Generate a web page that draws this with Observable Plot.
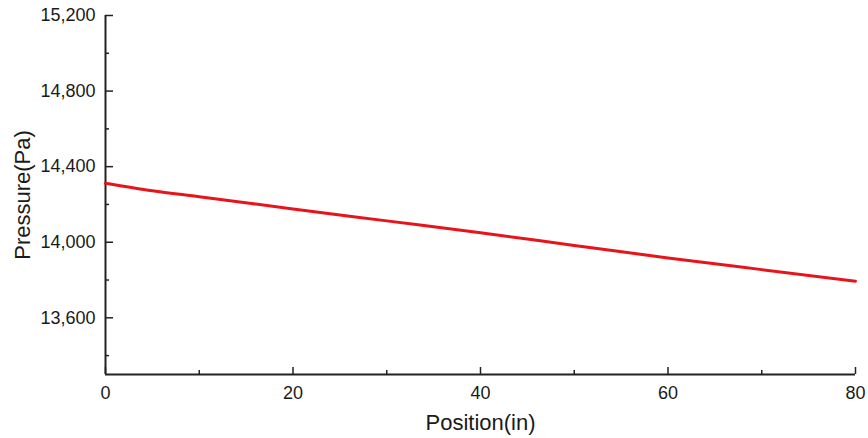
<!DOCTYPE html>
<html>
<head>
<meta charset="utf-8">
<script src="https://cdn.jsdelivr.net/npm/d3@7"></script>
<script src="https://cdn.jsdelivr.net/npm/@observablehq/plot@0.6"></script>
<style>
  html, body { margin: 0; padding: 0; background: #fff; }
  #chart svg { display: block; }
</style>
</head>
<body>
<div id="chart"></div>
<script>
// Data
const positions = [0, 5, 10, 20, 30, 40, 50, 60, 70, 80];
const pressures = [14312, 14272, 14241, 14176, 14113, 14050, 13983, 13917, 13855, 13794];

const xMajorTicks = [0, 20, 40, 60, 80];
const xMinorTicks = [10, 30, 50, 70];
const yMajorTicks = [13600, 14000, 14400, 14800, 15200];
const yMinorTicks = [13400, 13800, 14200, 14600, 15000];
const xDomain = [0, 80];
const yDomain = [13300, 15200];

const data = positions.map((p, i) => ({position: p, pressure: pressures[i]}));

const W = 868, H = 438;
const mL = 105, mR = 13, mT = 15, mB = 64;
const plotW = W - mL - mR, plotH = H - mT - mB;
const axisColor = "#222";

const chart = Plot.plot({
  width: W,
  height: H,
  marginLeft: mL,
  marginRight: mR,
  marginTop: mT,
  marginBottom: mB,
  style: {fontFamily: "'Liberation Sans', Arial, sans-serif", color: "#1a1a1a", background: "#fff"},
  x: {domain: xDomain},
  y: {domain: yDomain},
  marks: [
    Plot.axisX(xMajorTicks, {tickSize: 0, tickPadding: 12, fontSize: 18, tickFormat: d3.format("d"),
      label: "Position(in)", labelAnchor: "center", labelArrow: "none", labelOffset: 55}),
    Plot.axisY(yMajorTicks, {tickSize: 0, tickPadding: 10, fontSize: 18, tickFormat: d3.format(","),
      label: "Pressure(Pa)", labelAnchor: "center", labelArrow: "none", labelOffset: 91}),
    // inward major / minor ticks
    Plot.tickY(yMajorTicks, {y: d => d, stroke: axisColor, strokeWidth: 1.5, insetRight: plotW - 8}),
    Plot.tickY(yMinorTicks, {y: d => d, stroke: axisColor, strokeWidth: 1.5, insetRight: plotW - 4}),
    Plot.tickX(xMajorTicks, {x: d => d, stroke: axisColor, strokeWidth: 1.5, insetTop: plotH - 7}),
    Plot.tickX(xMinorTicks, {x: d => d, stroke: axisColor, strokeWidth: 1.5, insetTop: plotH - 4}),
    // axis lines
    Plot.ruleX([xDomain[0]], {stroke: axisColor, strokeWidth: 2}),
    Plot.ruleY([yDomain[0]], {stroke: axisColor, strokeWidth: 2}),
    // data line
    Plot.line(data, {x: "position", y: "pressure", stroke: "#e8141c", strokeWidth: 3, curve: "monotone-x"})
  ]
});

chart.querySelectorAll("[aria-label='x-axis label'] text, [aria-label='y-axis label'] text").forEach(t => {
  t.setAttribute("font-size", "22");
});
document.getElementById("chart").appendChild(chart);
</script>
</body>
</html>
